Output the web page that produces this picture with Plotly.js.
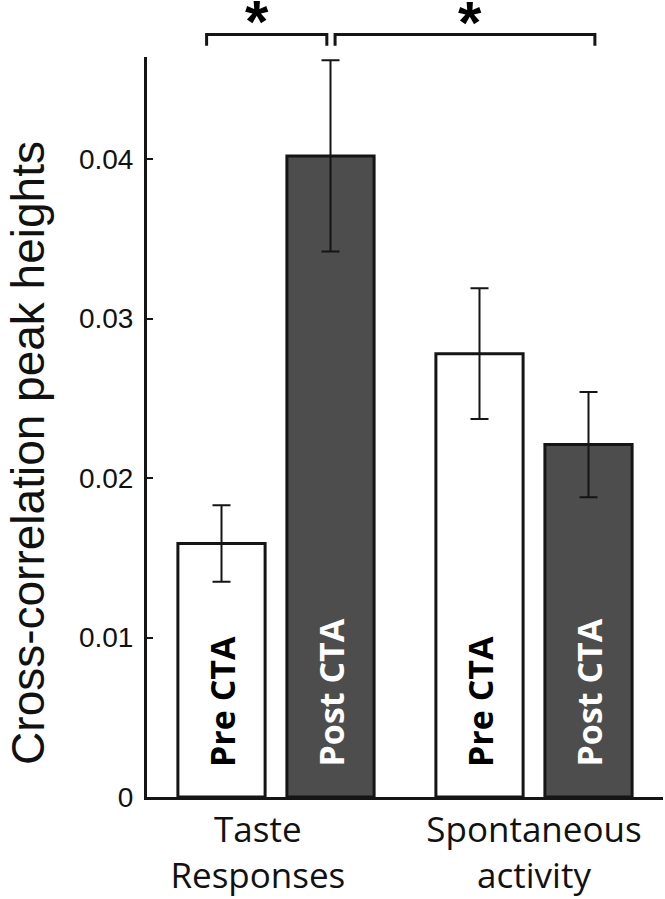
<!DOCTYPE html>
<html>
<head>
<meta charset="utf-8">
<script src="https://cdn.plot.ly/plotly-3.0.1.min.js"></script>
<style>
  html, body { margin: 0; padding: 0; background: #fff; }
</style>
</head>
<body>
<div id="chart" style="width:665px;height:899px;"></div>
<script>
// data
var groups = ["Taste&nbsp;&nbsp;&nbsp;&nbsp;<br>Responses&nbsp;&nbsp;&nbsp;&nbsp;", "Spontaneous<br>activity"];
var preCTA = [0.0159, 0.0278];
var preErr = [0.0024, 0.0041];
var postCTA = [0.0402, 0.0221];
var postErr = [0.0060, 0.0033];
var barLabels = ["Pre CTA", "Post CTA"];
var yTicks = [0, 0.01, 0.02, 0.03, 0.04];
var yTickText = ["0", "0.01", "0.02", "0.03", "0.04"];
var yTitle = "Cross-correlation peak heights";
var sigText = "*";

var ink = "#151515";
var darkFill = "#4d4d4d";

var pre = {
  x: groups,
  y: preCTA,
  name: barLabels[0],
  type: "bar",
  marker: { color: "#ffffff", line: { color: ink, width: 3 } },
  error_y: { type: "data", array: preErr, visible: true, color: ink, thickness: 2, width: 9 },
  hoverinfo: "y"
};

var post = {
  x: groups,
  y: postCTA,
  name: barLabels[1],
  type: "bar",
  marker: { color: darkFill, line: { color: ink, width: 3 } },
  error_y: { type: "data", array: postErr, visible: true, color: ink, thickness: 2, width: 9 },
  hoverinfo: "y"
};

// labels written up the bars
var annotations = [];
groups.forEach(function (g, i) {
  annotations.push({
    x: i, y: 0, xref: "x", yref: "y",
    xshift: -54.5, yshift: 28,
    text: "<b>" + barLabels[0] + "</b>",
    textangle: -90, showarrow: false,
    xanchor: "center", yanchor: "bottom",
    font: { family: "Open Sans, sans-serif", size: 34, color: "#000" }
  });
  annotations.push({
    x: i, y: 0, xref: "x", yref: "y",
    xshift: 54.5, yshift: 28,
    text: "<b>" + barLabels[1] + "</b>",
    textangle: -90, showarrow: false,
    xanchor: "center", yanchor: "bottom",
    font: { family: "Open Sans, sans-serif", size: 34, color: "#fff" }
  });
});

// significance stars
[[-0.075, 1.048], [0.75, 1.046]].forEach(function (p) {
  annotations.push({
    x: p[0], y: p[1], xref: "x", yref: "paper",
    text: "<b>" + sigText + "</b>", showarrow: false,
    xanchor: "center", yanchor: "middle",
    font: { family: "Liberation Sans, Arial, sans-serif", size: 60, color: "#000" }
  });
});

// y axis title, placed a little below the plot centre as in the figure
annotations.push({
  x: 0, y: 0.465, xref: "paper", yref: "paper",
  xshift: -119, text: yTitle, textangle: -90, showarrow: false,
  xanchor: "center", yanchor: "middle",
  font: { family: "Liberation Sans, Arial, sans-serif", size: 46, color: "#111" }
});

// brackets
function bracket(x0, x1) {
  return {
    type: "path", xref: "x", yref: "paper",
    path: "M " + x0 + " 1.0153 L " + x0 + " 1.0304 L " + x1 + " 1.0304 L " + x1 + " 1.0153",
    line: { color: ink, width: 3 }
  };
}

var layout = {
  width: 665,
  height: 899,
  margin: { l: 147, r: 2, t: 57, b: 102 },
  paper_bgcolor: "#fff",
  plot_bgcolor: "#fff",
  showlegend: false,
  barmode: "group",
  bargap: 0.155,
  bargroupgap: 0.2,
  xaxis: {
    type: "category",
    range: [-0.5, 1.5],
    showline: true, linecolor: ink, linewidth: 3,
    ticks: "", showgrid: false, zeroline: false,
    tickfont: { family: "Open Sans, sans-serif", size: 35, color: "#111" },
    ticklabelstandoff: 0
  },
  yaxis: {
    range: [0, 0.0464],
    tickvals: yTicks, ticktext: yTickText,
    showline: true, linecolor: ink, linewidth: 3,
    ticks: "inside", ticklen: 6, tickwidth: 2, tickcolor: ink,
    showgrid: false, zeroline: false,
    tickfont: { family: "Liberation Sans, Arial, sans-serif", size: 28, color: "#111" },
    ticklabelstandoff: 5
  },
  shapes: [bracket(-0.269, 0.197), bracket(0.229, 1.236)],
  annotations: annotations
};

Plotly.newPlot("chart", [pre, post], layout, { displayModeBar: false, staticPlot: true });
</script>
</body>
</html>
